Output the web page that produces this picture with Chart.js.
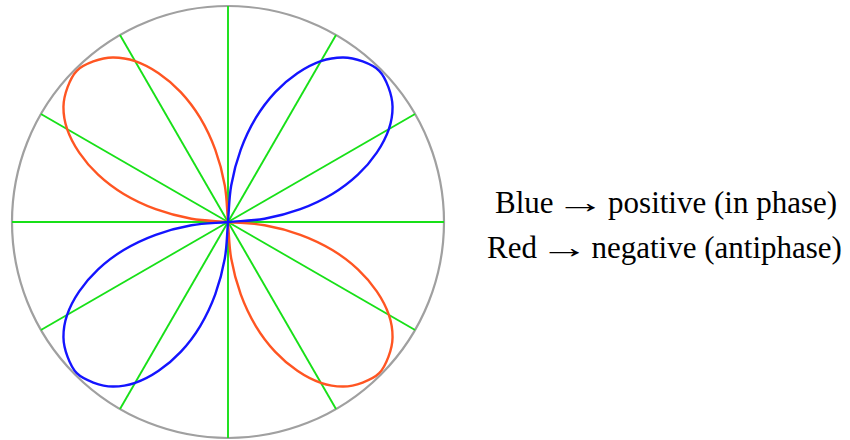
<!DOCTYPE html>
<html>
<head>
<meta charset="utf-8">
<script src="https://cdn.jsdelivr.net/npm/chart.js@4"></script>
<style>
    body { margin: 0; background: #fff; width: 850px; height: 440px; overflow: hidden; position: relative; }
    #orbital { position: absolute; left: 8px; top: 2px; }
    .note { position: absolute; font-family: "Liberation Serif", "Times New Roman", serif; font-size: 31px; line-height: 31px; color: #000; white-space: nowrap; }
    .note .arrow { display: inline-block; transform: scaleX(1.6); margin: 0 4px; }
</style>
</head>
<body>
<canvas id="orbital" width="440" height="440"></canvas>
<div class="note" style="left: 495px; top: 187px;">Blue <span class="arrow">→</span> positive (in phase)</div>
<div class="note" style="left: 487px; top: 232px;">Red <span class="arrow">→</span> negative (antiphase)</div>
<script>
// directions around the plot, degrees clockwise from 3 o'clock
const angles = [0, 5, 10, 15, 20, 25, 30, 35, 40, 45, 50, 55, 60, 65, 70, 75, 80, 85,
    90, 95, 100, 105, 110, 115, 120, 125, 130, 135, 140, 145, 150, 155, 160, 165, 170, 175,
    180, 185, 190, 195, 200, 205, 210, 215, 220, 225, 230, 235, 240, 245, 250, 255, 260, 265,
    270, 275, 280, 285, 290, 295, 300, 305, 310, 315, 320, 325, 330, 335, 340, 345, 350, 355]

// one lobe, radius at every 5 degrees across its 90 degree sector
const lobeRadius = [0, 0.17, 0.34, 0.5, 0.64, 0.76, 0.86, 0.93, 0.97, 0.99,
    0.97, 0.93, 0.86, 0.76, 0.64, 0.5, 0.34, 0.17, 0]

// where each lobe's sector starts
const blueLobes = [90, 270]   // lower left, upper right
const redLobes = [0, 180]     // lower right, upper left

function lobeSeries(starts) {
    return angles.map(a => {
        for (let s of starts) {
            const d = (a - s + 360) % 360
            if (d <= 90) return lobeRadius[d / 5]
        }
        return null
    })
}

new Chart(document.getElementById('orbital'), {
    type: 'radar',
    data: {
        labels: angles,
        datasets: [{
            data: lobeSeries(blueLobes),
            borderColor: '#1414ff',
            borderWidth: 2.4,
            fill: false,
            tension: 0.35,
            spanGaps: false,
            pointRadius: 0
        }, {
            data: lobeSeries(redLobes),
            borderColor: '#ff5522',
            borderWidth: 2.4,
            fill: false,
            tension: 0.35,
            spanGaps: false,
            pointRadius: 0
        }]
    },
    options: {
        responsive: false,
        animation: false,
        devicePixelRatio: 1,
        layout: { padding: 4 },
        plugins: {
            legend: { display: false },
            tooltip: { enabled: false }
        },
        scales: {
            r: {
                min: 0,
                max: 1,
                startAngle: 90,
                ticks: { display: false, stepSize: 1 },
                pointLabels: { display: false },
                grid: { circular: true, color: '#a0a0a0', lineWidth: 2.2 },
                angleLines: {
                    // spokes every 30 degrees
                    color: ctx => ctx.index % 6 === 0 ? '#18e018' : 'rgba(0,0,0,0)',
                    lineWidth: 1.9
                }
            }
        }
    }
})
</script>
</body>
</html>
